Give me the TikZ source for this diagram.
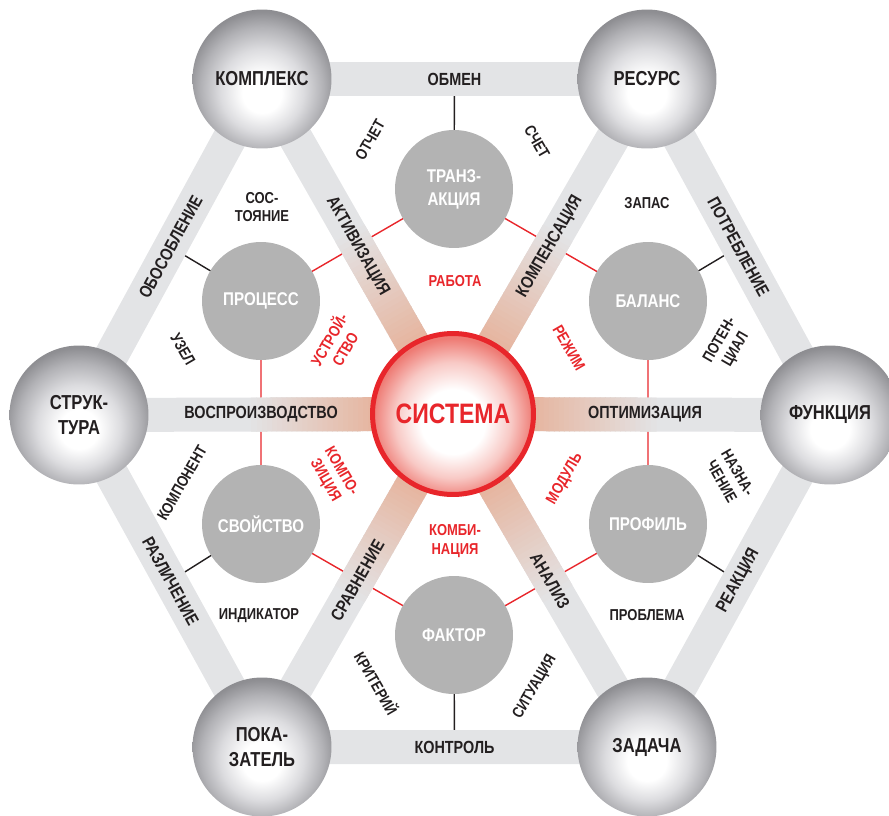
\documentclass[tikz,border=0pt]{standalone}
\usepackage{fontspec}
\setmainfont{Liberation Sans}[FakeStretch=0.82]
\usetikzlibrary{calc,backgrounds}

\definecolor{grisclair}{HTML}{E3E4E6}
\definecolor{grisdisque}{HTML}{B3B3B3}
\definecolor{rouge}{HTML}{E8262B}
\definecolor{peche}{HTML}{E6B49E}
\definecolor{encre}{HTML}{231F20}
\definecolor{boulea}{HTML}{DCDCDF}
\definecolor{bouleb}{HTML}{B2B2B6}
\definecolor{boulec}{HTML}{8E8E92}
\definecolor{bouled}{HTML}{727276}
\definecolor{rosea}{HTML}{F8C9C5}
\definecolor{roseb}{HTML}{EE7B74}

\pgfdeclareradialshading{sphere}{\pgfpoint{0bp}{-6bp}}{color(0bp)=(white); color(7bp)=(white); color(15bp)=(boulea); color(22bp)=(bouleb); color(27bp)=(boulec); color(50bp)=(bouled)}
\pgfdeclareradialshading{coeurshade}{\pgfpoint{0bp}{-3bp}}{color(0bp)=(white); color(10bp)=(white); color(18bp)=(rosea); color(25bp)=(roseb); color(50bp)=(roseb)}

\begin{document}
\begin{tikzpicture}[x=0.02cm,y=-0.02cm]
\tikzstyle{bande}=[line width=0.68cm,grisclair]
\tikzstyle{lien}=[line width=0.8pt,encre]
\tikzstyle{lienrouge}=[line width=0.8pt,rouge]
\tikzset{boule/.style={circle,minimum size=2.78cm,inner sep=0pt,shade,shading=sphere,align=center,text=encre,font=\bfseries\fontsize{11.5}{14}\selectfont},
disque/.style={circle,minimum size=2.36cm,inner sep=0pt,fill=grisdisque,text=white,align=center,font=\bfseries\fontsize{10.5}{13}\selectfont},
coeur/.style={circle,minimum size=3.22cm,inner sep=0pt,draw=rouge,line width=0.1cm,shade,shading=coeurshade,text=rouge,font=\bfseries\fontsize{16}{19}\selectfont},
mot/.style={text=#1,align=center,inner sep=1pt,font=\bfseries\fontsize{9}{10.5}\selectfont},
mot/.default={encre},
bmot/.style={text=encre,inner sep=1pt,font=\bfseries\fontsize{10}{12}\selectfont}}
\useasboundingbox (0,0) rectangle (889,815);

\node[boule] (K) at (262,79) {КОМПЛЕКС};
\node[boule] (R) at (647,79) {РЕСУРС};
\node[boule] (S) at (79,415) {СТРУК-\\ТУРА};
\node[boule] (F) at (830,415) {ФУНКЦИЯ};
\node[boule] (P) at (262,747) {ПОКА-\\ЗАТЕЛЬ};
\node[boule] (Z) at (647,747) {ЗАДАЧА};
\node[coeur] (sys) at (453,414) {СИСТЕМА};

\node[disque] (T) at (454,189) {ТРАНЗ-\\АКЦИЯ};
\node[disque] (Pr) at (261,301) {ПРОЦЕСС};
\node[disque] (B) at (648,301) {БАЛАНС};
\node[disque] (Sv) at (261,524) {СВОЙСТВО};
\node[disque] (Pf) at (648,524) {ПРОФИЛЬ};
\node[disque] (Fa) at (454,635) {ФАКТОР};

\coordinate (mKR) at ($(K)!.5!(R)$);
\coordinate (mKS) at ($(K)!.5!(S)$);
\coordinate (mRF) at ($(R)!.5!(F)$);
\coordinate (mSP) at ($(S)!.5!(P)$);
\coordinate (mFZ) at ($(F)!.5!(Z)$);
\coordinate (mPZ) at ($(P)!.5!(Z)$);

\begin{scope}[on background layer]
\draw[lienrouge] (T.center) -- (B.center) -- (Pf.center) -- (Fa.center) -- (Sv.center) -- (Pr.center) -- cycle;
\draw[lien] (T.center) -- (mKR);
\draw[lien] (Pr.center) -- (mKS);
\draw[lien] (B.center) -- (mRF);
\draw[lien] (Sv.center) -- (mSP);
\draw[lien] (Pf.center) -- (mFZ);
\draw[lien] (Fa.center) -- (mPZ);
\draw[bande] (K.center) -- (R.center) -- (F.center) -- (Z.center) -- (P.center) -- (S.center) -- cycle;
% rayons avec degrade
\foreach \n in {K,R,S,F,P,Z}{
  \draw[bande] (sys.center) -- (\n.center);
  \foreach \i in {0,...,24}{
    \pgfmathsetmacro\a{0.2+0.0135*\i}
    \pgfmathsetmacro\b{\a+0.016}
    \pgfmathsetmacro\p{100-4*\i}
    \draw[line width=0.68cm,peche!\p!grisclair] ($(sys.center)!\a!(\n.center)$) -- ($(sys.center)!\b!(\n.center)$);
  }
}
\end{scope}

\node[bmot] (obmen) at (mKR) {ОБМЕН};
\node[bmot] (kontrol) at (mPZ) {КОНТРОЛЬ};
\node[bmot,rotate=61.4] (obosob) at (mKS) {ОБОСОБЛЕНИЕ};
\node[bmot,rotate=-61.4] (potreb) at (mRF) {ПОТРЕБЛЕНИЕ};
\node[bmot,rotate=-61.1] (razlich) at (mSP) {РАЗЛИЧЕНИЕ};
\node[bmot,rotate=61.1] (reakc) at (mFZ) {РЕАКЦИЯ};
\node[bmot] (vospr) at (261,414) {ВОСПРОИЗВОДСТВО};
\node[bmot] (optim) at (645,414) {ОПТИМИЗАЦИЯ};
\node[bmot,rotate=-60.3] (aktiv) at ($(sys)!.5!(K)$) {АКТИВИЗАЦИЯ};
\node[bmot,rotate=59.9] (kompens) at ($(sys)!.5!(R)$) {КОМПЕНСАЦИЯ};
\node[bmot,rotate=60.2] (sravn) at ($(sys)!.5!(P)$) {СРАВНЕНИЕ};
\node[bmot,rotate=-59.8] (analiz) at ($(sys)!.5!(Z)$) {АНАЛИЗ};

\node[mot,rotate=60] (otchet) at (370,140) {ОТЧЕТ};
\node[mot,rotate=-60] (schet) at (537,142) {СЧЕТ};
\node[mot] (sostoyanie) at (262,207) {СОС-\\ТОЯНИЕ};
\node[mot] (zapas) at (647,203) {ЗАПАС};
\node[mot,rotate=-60] (uzel) at (183,349) {УЗЕЛ};
\node[mot=rouge,rotate=60] (ustr) at (336,344) {УСТРОЙ-\\СТВО};
\node[mot=rouge] (rabota) at (455,281) {РАБОТА};
\node[mot=rouge,rotate=-60] (rezhim) at (569,348) {РЕЖИМ};
\node[mot,rotate=60] (poten) at (728,345) {ПОТЕН-\\ЦИАЛ};
\node[mot,rotate=60] (komponent) at (182,483) {КОМПОНЕНТ};
\node[mot=rouge,rotate=-60] (kompoz) at (333,476) {КОМПО-\\ЗИЦИЯ};
\node[mot=rouge,rotate=60] (modul) at (565,479) {МОДУЛЬ};
\node[mot,rotate=-60] (naznach) at (730,477) {НАЗНА-\\ЧЕНИЕ};
\node[mot=rouge] (kombi) at (455,541) {КОМБИ-\\НАЦИЯ};
\node[mot] (indik) at (259,616) {ИНДИКАТОР};
\node[mot] (problema) at (647,615) {ПРОБЛЕМА};
\node[mot,rotate=-60] (kriter) at (377,683) {КРИТЕРИЙ};
\node[mot,rotate=60] (situac) at (535,687) {СИТУАЦИЯ};
\end{tikzpicture}
\end{document}
